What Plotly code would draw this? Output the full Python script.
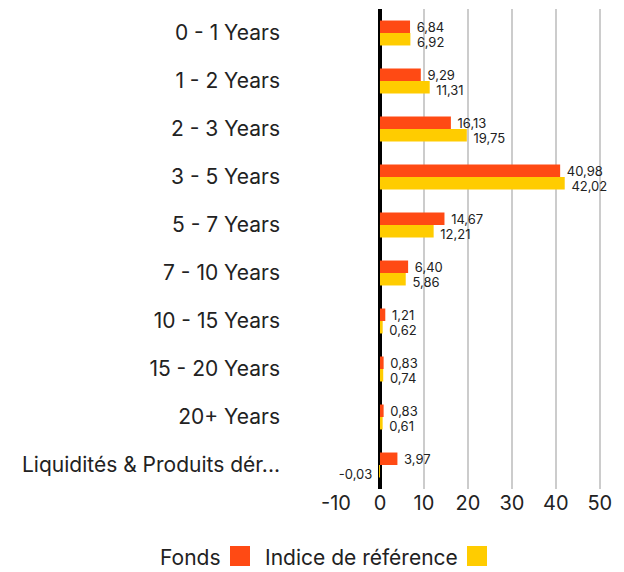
import plotly.graph_objects as go

categories = ["0 - 1 Years", "1 - 2 Years", "2 - 3 Years", "3 - 5 Years", "5 - 7 Years",
              "7 - 10 Years", "10 - 15 Years", "15 - 20 Years", "20+ Years",
              "Liquidités & Produits dér..."]
fonds = [6.84, 9.29, 16.13, 40.98, 14.67, 6.40, 1.21, 0.83, 0.83, 3.97]
indice = [6.92, 11.31, 19.75, 42.02, 12.21, 5.86, 0.62, 0.74, 0.61, -0.03]
series_names = ["Fonds", "Indice de référence"]
colors = ["#FF4A14", "#FFCC00"]
x_ticks = [-10, 0, 10, 20, 30, 40, 50]

# the page body has an 8px margin; work in window pixels and subtract it
OFF = 8
W, H = 624 - OFF, 572 - OFF
# plot area in window pixels: x 336..613, y 9..489
L, R, T, B = 336 - OFF, 624 - 613, 9 - OFF, 572 - 489
PW, PH = W - L - R, H - T - B

NB = "\u00a0"


def fmt(v, lower=False):
    s = f"{v:.2f}".replace(".", ",")
    s = (NB + s) if v >= 0 else (s + NB)
    if lower:
        s = "<span style='font-size:1px'>" + NB + "</span><br>" + s
    return s


def px_x(p):
    return (p - OFF - L) / PW


def px_y(p):
    return (H - B - (p - OFF)) / PH


FONT = "Inter, Noto Sans, sans-serif"

fig = go.Figure()
for i, (name, vals, col) in enumerate(zip(series_names, [fonds, indice], colors)):
    fig.add_trace(go.Bar(
        y=categories, x=vals, name=name, orientation="h",
        marker=dict(color=col, line=dict(width=0)),
        text=[fmt(v, lower=(i == 1)) for v in vals], textposition="outside",
        constraintext="none",
        textfont=dict(size=13, color="#222222", family=FONT),
        cliponaxis=False, showlegend=False,
    ))

fig.update_layout(
    width=W, height=H,
    margin=dict(l=L, r=R, t=T, b=B, autoexpand=False),
    barmode="group", bargap=0.48, bargroupgap=0,
    plot_bgcolor="white", paper_bgcolor="white",
    font=dict(family=FONT, color="#222222"),
    xaxis=dict(range=[-10, 53], tickvals=x_ticks, ticktext=[str(t) for t in x_ticks],
               showgrid=True, gridcolor="#cccccc", gridwidth=2,
               zeroline=True, zerolinecolor="#000000", zerolinewidth=4,
               tickfont=dict(size=20, color="#222222"), showline=False, ticks="",
               automargin=False),
    yaxis=dict(autorange="reversed", showgrid=False, zeroline=False, ticks="",
               tickfont=dict(size=21, color="#222222"), ticklabelstandoff=55,
               categoryorder="array", categoryarray=categories, automargin=False),
)

# custom legend (text then swatch)
legend_items = [("Fonds", 223, 230), ("Indice de référence", 460, 467)]
for (label, tx, sx), col in zip(legend_items, colors):
    fig.add_annotation(text=label, xref="paper", yref="paper", x=px_x(tx), y=px_y(557),
                       xanchor="right", yanchor="middle", showarrow=False,
                       font=dict(size=21, color="#222222", family=FONT))
    fig.add_shape(type="rect", xref="paper", yref="paper",
                  x0=px_x(sx), x1=px_x(sx + 20), y0=px_y(566), y1=px_y(546),
                  fillcolor=col, line=dict(width=0))

fig.write_html("out.html")
